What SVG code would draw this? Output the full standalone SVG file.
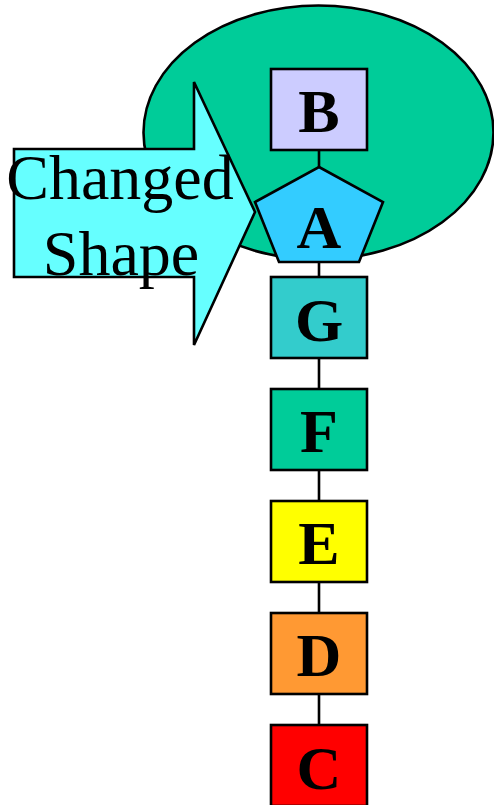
<svg xmlns="http://www.w3.org/2000/svg" width="494" height="805" viewBox="0 0 494 805">
<style>
.s{stroke:#000;stroke-width:2.6;}
.lbl{font-family:"Liberation Serif","Times New Roman",serif;font-weight:bold;font-size:62px;text-anchor:middle;fill:#000;}
.big{font-family:"Liberation Serif","Times New Roman",serif;font-size:64px;text-anchor:middle;fill:#000;}
</style>
<rect width="494" height="805" fill="#fff"/>
<g id="cluster"><ellipse class="s" cx="318.5" cy="132.5" rx="175" ry="127" fill="#00CC99"/></g>
<g id="connectors" class="s" fill="none">
<line x1="319" y1="150" x2="319" y2="805"/>
</g>
<g id="arrow">
<polygon class="s" points="14,149 194,149 194,82 255,212 194,345 194,277 14,277" fill="#66FFFF"/>
<text class="big" x="120" y="199">Changed</text>
<text class="big" x="121" y="275">Shape</text>
</g>
<g id="B"><rect class="s" x="271" y="69" width="96" height="81" fill="#CCCCFF"/><text class="lbl" x="319" y="132">B</text></g>
<g id="A"><polygon class="s" points="319,167 383,202 359,262 279,262 255,202" fill="#33CCFF"/><text class="lbl" x="319" y="248">A</text></g>
<g id="G"><rect class="s" x="271" y="277" width="96" height="81" fill="#33CCCC"/><text class="lbl" x="319" y="341">G</text></g>
<g id="F"><rect class="s" x="271" y="389" width="96" height="81" fill="#00CC99"/><text class="lbl" x="319" y="452">F</text></g>
<g id="E"><rect class="s" x="271" y="501" width="96" height="81" fill="#FFFF00"/><text class="lbl" x="319" y="564">E</text></g>
<g id="D"><rect class="s" x="271" y="613" width="96" height="81" fill="#FF9933"/><text class="lbl" x="319" y="676">D</text></g>
<g id="C"><rect class="s" x="271" y="725" width="96" height="81" fill="#FF0000"/><text class="lbl" x="319" y="789">C</text></g>
</svg>
